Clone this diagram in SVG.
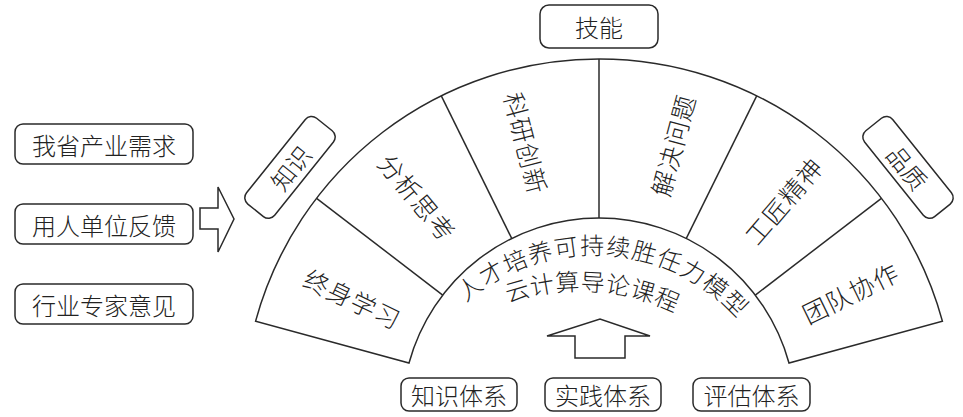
<svg xmlns="http://www.w3.org/2000/svg" width="963" height="417" viewBox="0 0 963 417">
<style>
.box{fill:#fff;stroke:#2a2a2a;stroke-width:1.5}
.ln{fill:none;stroke:#2a2a2a;stroke-width:1.5}
.arw{fill:#fff;stroke:#2a2a2a;stroke-width:1.5;stroke-linejoin:miter}
text{font-family:"Noto Sans CJK SC","Noto Sans CJK JP",sans-serif;font-weight:300;fill:#222}
.t24{font-size:24px;text-anchor:middle;dominant-baseline:central}
.t25{font-size:25px;text-anchor:middle;dominant-baseline:central;letter-spacing:1px}
</style>
<rect width="963" height="417" fill="#fff"/>
<g id="fan">
<path class="ln" d="M255.6,321.1 A356,356 0 0 1 942.4,321.1 L789,363 A197,197 0 0 0 409,363 Z"/>
<line class="ln" x1="316.6" y1="198.3" x2="442.7" y2="295.1"/>
<line class="ln" x1="441.3" y1="95.8" x2="511.7" y2="238.4"/>
<line class="ln" x1="599" y1="59" x2="599" y2="218"/>
<line class="ln" x1="756.7" y1="95.8" x2="686.3" y2="238.4"/>
<line class="ln" x1="881.4" y1="198.3" x2="755.3" y2="295.1"/>
</g>
<g id="sector-lifelong"><text class="t25" transform="translate(353,298) rotate(25.4)" x="0" y="0">终身学习</text></g>
<g id="sector-analysis"><text class="t25" transform="translate(418,197) rotate(50.3)" x="0" y="0">分析思考</text></g>
<g id="sector-research"><text class="t25" transform="translate(527,143) rotate(75.5)" x="0" y="0">科研创新</text></g>
<g id="sector-problem"><text class="t25" transform="translate(672,145) rotate(-75)" x="0" y="0">解决问题</text></g>
<g id="sector-craft"><text class="t25" transform="translate(783,200) rotate(-49.4)" x="0" y="0">工匠精神</text></g>
<g id="sector-team"><text class="t25" transform="translate(850,292) rotate(-26.1)" x="0" y="0">团队协作</text></g>
<defs>
<path id="arc1" d="M452.9,315 A194,194 0 0 1 749.6,333.2"/>
<path id="arc2" d="M450.8,333 A216,216 0 0 1 728,349.9"/>
</defs>
<g id="center-text">
<text style="font-size:24px;letter-spacing:1.2px"><textPath href="#arc1" startOffset="50%" text-anchor="middle">人才培养可持续胜任力模型</textPath></text>
<text style="font-size:24px;letter-spacing:0.5px"><textPath href="#arc2" startOffset="50%" text-anchor="middle">云计算导论课程</textPath></text>
</g>
<g id="skill"><rect class="box" x="540" y="5" width="118" height="43" rx="9"/><text class="t24" x="599" y="26.5">技能</text></g>
<g id="knowledge"><g transform="translate(290,167.4) rotate(-51.3)"><rect class="box" x="-55" y="-18" width="110" height="36" rx="8"/><text class="t24" x="0" y="0">知识</text></g></g>
<g id="quality"><g transform="translate(908,167.4) rotate(51.3)"><rect class="box" x="-55" y="-18" width="110" height="36" rx="8"/><text class="t24" x="0" y="0">品质</text></g></g>
<g id="demand"><rect class="box" x="15" y="124" width="178" height="40" rx="8"/><text class="t24" x="104" y="144">我省产业需求</text></g>
<g id="feedback"><rect class="box" x="15" y="204" width="178" height="40" rx="8"/><text class="t24" x="104" y="224">用人单位反馈</text></g>
<g id="expert"><rect class="box" x="15" y="284" width="178" height="40" rx="8"/><text class="t24" x="104" y="304">行业专家意见</text></g>
<g id="knowledge-system"><rect class="box" x="401" y="378" width="116" height="33" rx="8"/><text class="t24" x="459" y="394.5">知识体系</text></g>
<g id="practice-system"><rect class="box" x="545" y="378" width="116" height="33" rx="8"/><text class="t24" x="603" y="394.5">实践体系</text></g>
<g id="evaluation-system"><rect class="box" x="693" y="378" width="117" height="33" rx="8"/><text class="t24" x="751.5" y="394.5">评估体系</text></g>
<g id="connectors">
<path class="arw" d="M200,208 L218,208 L218,187 L234,219 L218,252 L218,229 L200,229 Z"/>
<path class="arw" d="M575,358 L575,336 L547,336 L600,319 L650,336 L625,336 L625,358 Z"/>
</g>
</svg>
